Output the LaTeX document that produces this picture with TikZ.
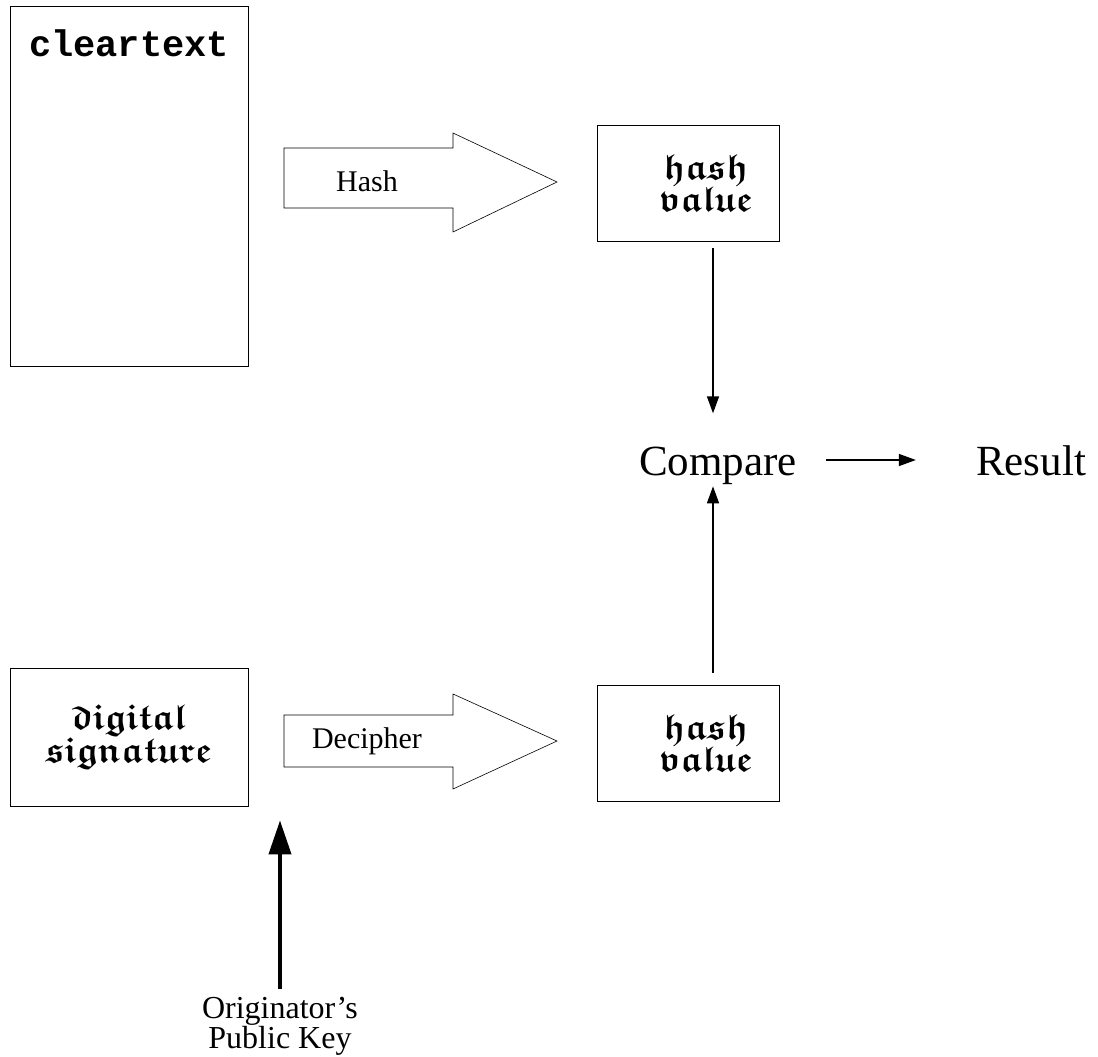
\documentclass[tikz,border=0pt]{standalone}
\usepackage{amsmath,amssymb}
\usepackage{fontspec}
\setmainfont{Liberation Serif}
\setmonofont{Liberation Mono}
\usetikzlibrary{arrows.meta}
\newcommand{\gothword}[1]{$\boldsymbol{\mathfrak{#1}}$}

\begin{document}
\begin{tikzpicture}[x=1pt,y=-1pt]
        \tikzstyle{every node}+=[inner sep=0pt]
        \tikzstyle{box}=[draw, line width=0.8pt]
        \tikzstyle{goth}=[font=\fontsize{36}{31}\selectfont, align=center]
        \tikzstyle{label}=[font=\fontsize{30}{30}\selectfont]
        \tikzstyle{big}=[font=\fontsize{43}{43}\selectfont, anchor=base]
        \tikzstyle{arr}=[line width=1.4pt, -{Triangle[length=17pt,width=12pt]}]
        \useasboundingbox (0,0) rectangle (1098,1057);
        \node [box, minimum width=238pt, minimum height=360pt] (clear) at (129,186) {};
        \node [font=\fontsize{37}{37}\selectfont\ttfamily\bfseries] (cleartxt) at (129,43) {cleartext};
        \node [box, minimum width=182pt, minimum height=116pt] (hash1) at (688,183) {};
        \node [goth] (hash1txt) at (706,183) {\gothword{hash}\\\gothword{value}};
        \node [box, goth, minimum width=238pt, minimum height=138pt] (digsig) at (129,737) {\gothword{digital}\\\gothword{signature}};
        \node [box, minimum width=182pt, minimum height=116pt] (hash2) at (688,743) {};
        \node [goth] (hash2txt) at (706,743) {\gothword{hash}\\\gothword{value}};
        \node [big] (cmp) at (718,475) {Compare};
        \node [big] (res) at (1031,475) {Result};
        \node [font=\fontsize{32}{30}\selectfont, align=center] (key) at (280,1026) {Originator's\\Public Key};
        % block arrows
        \draw [line width=0.6pt] (284,148) -- (453,148) -- (453,133) -- (557,182) -- (453,232) -- (453,208) -- (284,208) -- cycle;
        \node [label] (hashlbl) at (367,181) {Hash};
        \draw [line width=0.6pt] (284,715) -- (453,715) -- (453,694) -- (557,741) -- (453,789) -- (453,767) -- (284,767) -- cycle;
        \node [label] (declbl) at (367,741) {Decipher};
        % connectors
        \coordinate (tap) at (713,0);
        \draw [arr, shorten <=7pt, shorten >=33pt] (hash1.south -| tap) -- (cmp.north -| tap);
        \draw [arr, shorten <=12pt, shorten >=2pt] (hash2.north -| tap) -- (cmp.south -| tap);
        \draw [arr, shorten <=29pt, shorten >=60pt] ([yshift=15pt]cmp.base east) -- ([yshift=15pt]res.base west);
        \draw [line width=4pt, -{Triangle[length=34pt,width=22pt]}, shorten <=8pt, shorten >=14pt] (key.north) -- (digsig.south -| key);
\end{tikzpicture}
\end{document}
